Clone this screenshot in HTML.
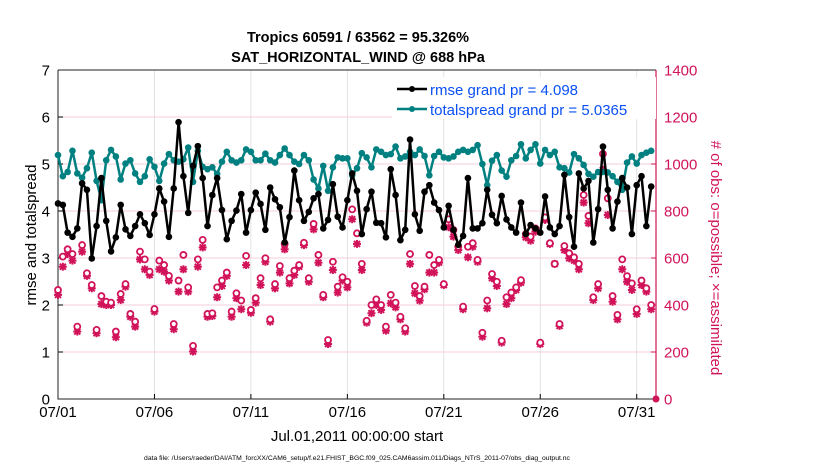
<!DOCTYPE html>
<html><head><meta charset="utf-8"><style>
body{margin:0;background:#fff;}
svg{display:block;font-family:"Liberation Sans",Arial,sans-serif;}
</style></head><body>
<svg id="chart" width="830" height="470" viewBox="0 0 830 470">
<text x="358" y="42" text-anchor="middle" font-size="14.5" font-weight="bold">Tropics 60591 / 63562 = 95.326%</text>
<text x="358" y="62" text-anchor="middle" font-size="14.5" font-weight="bold">SAT_HORIZONTAL_WIND @ 688 hPa</text>
<g id="grid"></g>
<g id="axes"></g>
<g id="marks"></g>
<text transform="translate(36,235) rotate(-90)" text-anchor="middle" font-size="15">rmse and totalspread</text>
<text transform="translate(711,258) rotate(90)" text-anchor="middle" font-size="15" fill="#d1135a"># of obs: o=possible; ×=assimilated</text>
<text x="357" y="441" text-anchor="middle" font-size="15">Jul.01,2011 00:00:00 start</text>
<text x="357" y="460" text-anchor="middle" font-size="6.8">data file: /Users/raeder/DAI/ATM_forcXX/CAM6_setup/f.e21.FHIST_BGC.f09_025.CAM6assim.011/Diags_NTrS_2011-07/obs_diag_output.nc</text>
<g>
<rect x="392" y="77" width="264" height="42" fill="#fff"/>
<line x1="397" y1="89" x2="427" y2="89" stroke="#000" stroke-width="2.5"/>
<circle cx="412" cy="89" r="3" fill="#000"/>
<text x="430" y="95" font-size="15" fill="#0a50f5">rmse grand pr = 4.098</text>
<line x1="397" y1="109" x2="427" y2="109" stroke="#008080" stroke-width="2.5"/>
<circle cx="412" cy="109" r="3" fill="#008080"/>
<text x="430" y="115" font-size="15" fill="#0a50f5">totalspread grand pr = 5.0365</text>
</g>
</svg>
<script>
const xTickLabels=["07/01","07/06","07/11","07/16","07/21","07/26","07/31"];
const xTickDays=[0,5,10,15,20,25,30];
const yLeftTicks=[0,1,2,3,4,5,6,7];
const yRightTicks=[0,200,400,600,800,1000,1200,1400];
const rmse=[4.16,4.13,3.54,3.45,3.63,4.59,4.45,2.99,3.68,4.70,3.79,3.14,3.44,4.13,3.61,3.47,3.68,3.93,3.74,3.49,3.93,4.48,4.20,3.45,4.48,5.89,4.74,3.96,4.96,5.38,4.70,3.68,4.34,4.70,4.02,3.40,3.79,4.01,4.36,3.54,4.02,4.39,4.15,3.60,
4.50,4.25,4.08,3.33,3.87,4.86,4.23,3.79,3.98,4.27,4.36,3.63,3.81,4.57,3.88,3.65,4.23,4.80,4.43,3.51,4.04,4.41,3.75,3.74,3.44,4.89,4.34,3.38,3.60,5.52,3.93,3.58,4.41,4.55,4.18,4.02,3.65,4.11,3.60,3.28,3.47,4.70,3.63,3.63,3.74,4.45,3.92,3.74,4.32,3.82,3.65,3.54,4.18,3.51,3.70,3.63,3.54,4.31,3.65,3.51,3.68,4.77,3.87,3.24,4.80,4.48,4.64,3.33,4.04,5.37,4.45,3.63,4.20,4.70,4.50,3.51,4.55,4.74,3.68,4.52];
const spread=[5.19,4.74,4.83,5.28,4.80,4.71,4.91,5.24,4.64,4.23,5.08,5.30,5.16,4.67,5.01,5.08,4.80,4.62,4.74,5.10,4.94,4.64,5.01,5.21,5.08,5.05,5.10,5.35,4.62,5.28,4.94,4.89,4.93,4.79,5.05,5.26,5.08,5.03,5.08,5.31,5.26,5.08,5.08,5.22,
5.08,5.03,5.19,5.33,5.19,5.05,5.00,5.19,5.08,4.67,4.48,4.96,4.43,4.93,5.14,5.12,5.12,4.76,4.91,5.23,5.14,4.93,5.31,5.26,5.19,5.21,5.37,5.12,5.16,5.26,5.19,5.31,5.17,4.76,5.17,5.26,5.14,5.12,5.16,5.26,5.30,5.26,5.30,5.40,5.00,4.55,5.07,5.19,4.86,4.73,5.08,5.17,5.42,5.12,5.30,5.42,5.01,5.30,5.19,5.26,4.93,4.91,4.82,5.21,5.12,4.98,4.79,4.73,4.83,4.83,4.82,4.74,4.62,4.45,5.03,5.16,5.01,5.19,5.24,5.28];
const nPossible=[464,606,637,617,308,655,535,485,294,438,414,410,287,447,489,362,329,627,594,542,383,589,570,524,319,504,613,475,226,594,677,362,365,475,504,538,372,450,419,609,379,429,514,599,
339,489,566,660,514,546,570,665,514,745,613,443,251,584,478,518,499,807,705,575,333,400,424,400,308,443,410,350,301,617,481,438,478,613,570,592,489,765,719,648,393,648,663,592,282,419,532,499,248,433,453,475,506,702,691,726,240,773,663,575,319,651,620,603,575,868,779,433,489,1043,854,438,358,594,523,492,382,504,471,400];
const nAssim=[443,563,617,589,287,627,524,471,280,404,400,400,263,421,478,350,308,594,552,528,372,552,542,504,297,457,552,457,202,563,645,350,353,433,481,524,350,429,382,570,367,410,485,584,
329,471,538,637,492,528,563,655,499,722,580,433,234,549,453,504,475,765,660,549,325,365,400,379,291,407,390,339,287,575,450,419,467,538,538,580,485,731,691,634,382,603,648,584,265,386,514,481,240,404,429,464,495,688,674,712,234,762,660,575,311,634,599,589,552,836,748,421,471,975,783,414,339,552,499,464,362,485,457,382];
const dayStep=0.25;

const NS="http://www.w3.org/2000/svg";
const X0=58,X1=656,Y0=399,Y1=70,DAYS=31;
function xs(d){return X0+(X1-X0)*d/DAYS;}
function yl(v){return Y0-(Y0-Y1)*v/7;}
function yr(v){return Y0-(Y0-Y1)*v/1400;}
function mk(tag,attrs,parent){const e=document.createElementNS(NS,tag);for(const k in attrs)e.setAttribute(k,attrs[k]);parent.appendChild(e);return e;}
const grid=document.getElementById('grid'),axes=document.getElementById('axes'),marks=document.getElementById('marks');

xTickDays.forEach((d,i)=>{
  const l=mk('line',{x1:xs(d),x2:xs(d),y1:Y1,y2:Y0,stroke:'#dcdcdc','stroke-width':0.8},grid);
  
  
  const t=mk('line',{x1:xs(d),x2:xs(d),y1:Y0,y2:Y0-5,stroke:'#000','stroke-width':1},axes);
  
  
  const tx=mk('text',{x:xs(d),y:417,'text-anchor':'middle','font-size':15},axes);
  tx.textContent=xTickLabels[i];
  
  
});
yRightTicks.forEach(v=>{
  if(v>0&&v<1400){
    const g=mk('line',{x1:X0,x2:X1,y1:yr(v),y2:yr(v),stroke:'#f4cfdc','stroke-width':1},grid);
    
    
  }
  const t=mk('line',{x1:X1,x2:X1-5,y1:yr(v),y2:yr(v),stroke:'#d1135a','stroke-width':1},axes);
  
  
  const tx=mk('text',{x:X1+8,y:yr(v)+5.5,'font-size':15,fill:'#d1135a'},axes);
  tx.textContent=v;
  
  
});
yLeftTicks.forEach(v=>{
  const t=mk('line',{x1:X0,x2:X0+5,y1:yl(v),y2:yl(v),stroke:'#000','stroke-width':1},axes);
  
  
  const tx=mk('text',{x:X0-8,y:yl(v)+5.5,'text-anchor':'end','font-size':15},axes);
  tx.textContent=v;
  
  
});
const ax=mk('path',{d:`M${X0},${Y1}V${Y0}H${X1}M${X0},${Y1}H${X1}`,stroke:'#222',fill:'none','stroke-width':1},axes);


const ar=mk('line',{x1:X1,x2:X1,y1:Y1,y2:Y0,stroke:'#d1135a','stroke-width':1.2},axes);



function star(cx,cy,parent){
  const g=mk('g',{stroke:'#d1135a','stroke-width':2},parent);
  const r=4;
  mk('line',{x1:cx-r,x2:cx+r,y1:cy,y2:cy},g);
  mk('line',{x1:cx,x2:cx,y1:cy-r,y2:cy+r},g);
  mk('line',{x1:cx-3,x2:cx+3,y1:cy-3,y2:cy+3},g);
  mk('line',{x1:cx-3,x2:cx+3,y1:cy+3,y2:cy-3},g);
  return g;
}
nAssim.forEach((v,i)=>{
  const s=star(xs(i*dayStep),yr(v),marks);
  
  
});
nPossible.forEach((v,i)=>{
  const c=mk('circle',{cx:xs(i*dayStep),cy:yr(v),r:3,fill:'#fff',stroke:'#d1135a','stroke-width':1.8},marks);
  
  
});
const z=mk('circle',{cx:X1,cy:Y0,r:3.5,fill:'#d1135a'},marks);



function series(arr,color,name){
  const pts=arr.map((v,i)=>xs(i*dayStep).toFixed(1)+','+yl(v).toFixed(1)).join(' ');
  const p=mk('polyline',{points:pts,fill:'none',stroke:color,'stroke-width':2.5,'stroke-linejoin':'round'},marks);
  
  
  arr.forEach((v,i)=>{
    const c=mk('circle',{cx:xs(i*dayStep),cy:yl(v),r:3.3,fill:color},marks);
    
    
  });
}
series(spread,'#008080','totalspread');
series(rmse,'#000000','rmse');
</script>
</body></html>
